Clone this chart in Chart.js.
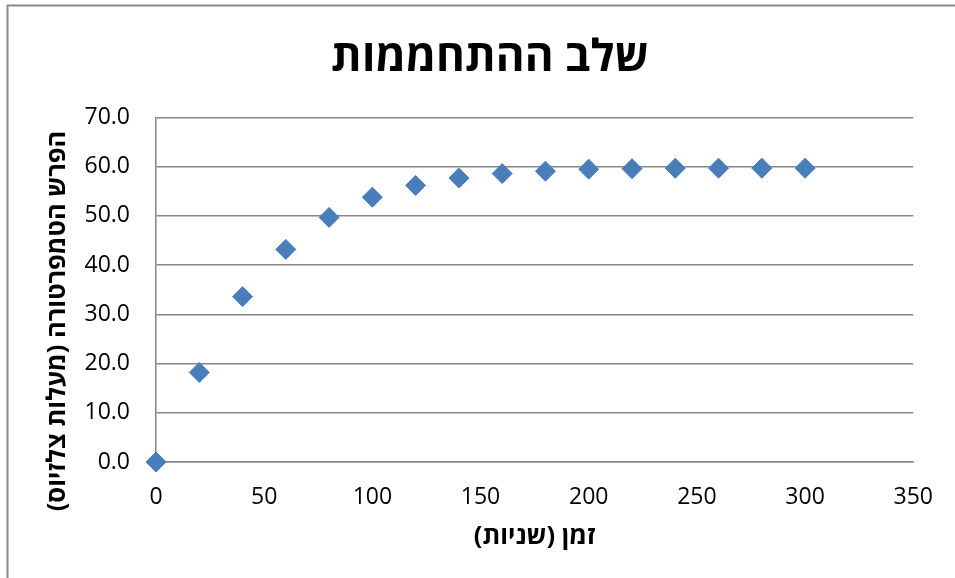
<!DOCTYPE html>
<html>
<head>
<meta charset="utf-8">
<script src="https://cdn.jsdelivr.net/npm/chart.js@4/dist/chart.umd.min.js"></script>
<style>
  html, body { margin: 0; padding: 0; background: #fff; }
  #wrap { position: absolute; left: 0; top: 0; width: 955px; height: 578px; }
</style>
</head>
<body>
<div id="wrap"><canvas id="c" width="955" height="578"></canvas></div>
<script>
const chartTitle = 'שלב ההתחממות';
const xAxisTitle = 'זמן (שניות)\u200F';
const yAxisTitle = 'הפרש הטמפרטורה (מעלות צלזיוס)\u200F';

const timeSeconds = [0, 20, 40, 60, 80, 100, 120, 140, 160, 180, 200, 220, 240, 260, 280, 300];
const tempDiff    = [0, 18.2, 33.6, 43.2, 49.7, 53.8, 56.2, 57.7, 58.6, 59.1, 59.5, 59.6, 59.7, 59.7, 59.7, 59.7];

const xMin = 0, xMax = 350, xStep = 50;
const yMin = 0, yMax = 70, yStep = 10;

const FONT = "'Open Sans', 'DejaVu Sans', sans-serif";
const GRID = '#868686';

const framePlugin = {
  id: 'frame',
  beforeDraw(chart) {
    const ctx = chart.ctx;
    ctx.save();
    ctx.fillStyle = '#ffffff';
    ctx.fillRect(0, 0, chart.width, chart.height);
    ctx.strokeStyle = '#8a8a8a';
    ctx.lineWidth = 2;
    ctx.beginPath();
    ctx.moveTo(7.5, chart.height);
    ctx.lineTo(7.5, 5.5);
    ctx.lineTo(chart.width, 5.5);
    ctx.stroke();
    ctx.restore();
  },
  afterDraw(chart) {
    const ctx = chart.ctx;
    ctx.save();
    ctx.fillStyle = '#000';
    ctx.textAlign = 'center';
    ctx.textBaseline = 'middle';
    // main title
    ctx.font = "bold 44px " + FONT;
    ctx.fillText(chartTitle, 490, 58);
    // y axis title, rotated
    ctx.font = "bold 25.5px " + FONT;
    ctx.translate(58, 321);
    ctx.rotate(-Math.PI / 2);
    ctx.fillText(yAxisTitle, 0, 0);
    ctx.restore();
  }
};

new Chart(document.getElementById('c'), {
  type: 'scatter',
  data: {
    datasets: [{
      data: timeSeconds.map((t, i) => ({ x: t, y: tempDiff[i] })),
      pointStyle: 'rectRot',
      pointRadius: 10,
      pointHoverRadius: 10,
      backgroundColor: '#4A7EBB',
      borderColor: '#4A7EBB',
      borderWidth: 1,
      clip: false
    }]
  },
  options: {
    responsive: false,
    devicePixelRatio: 1,
    animation: false,
    layout: { padding: { left: 0, right: 37, top: 117.5, bottom: 0 } },
    plugins: {
      legend: { display: false },
      tooltip: { enabled: false },
      title: { display: false }
    },
    scales: {
      x: {
        type: 'linear',
        min: xMin, max: xMax,
        afterFit(scale) { scale.height = 116; },
        grid: { display: false, drawTicks: false },
        border: { display: true, color: GRID, width: 1.5 },
        ticks: {
          stepSize: xStep,
          color: '#000',
          padding: 22,
          maxRotation: 0,
          font: { family: FONT, size: 23, lineHeight: 1.2 }
        },
        title: {
          display: true,
          text: xAxisTitle,
          color: '#000',
          font: { family: FONT, size: 25.5, weight: 'bold', lineHeight: 1.2 },
          padding: { top: 0, bottom: 25.7 }
        }
      },
      y: {
        min: yMin, max: yMax,
        afterFit(scale) { scale.width = 156; },
        grid: { color: GRID, lineWidth: 1.5, drawTicks: false },
        border: { display: true, color: GRID, width: 1.5 },
        ticks: {
          stepSize: yStep,
          color: '#000',
          padding: 26,
          font: { family: FONT, size: 23, lineHeight: 1.2 },
          callback: v => Number(v).toFixed(1)
        },
        title: { display: false }
      }
    }
  },
  plugins: [framePlugin]
});
</script>
</body>
</html>
